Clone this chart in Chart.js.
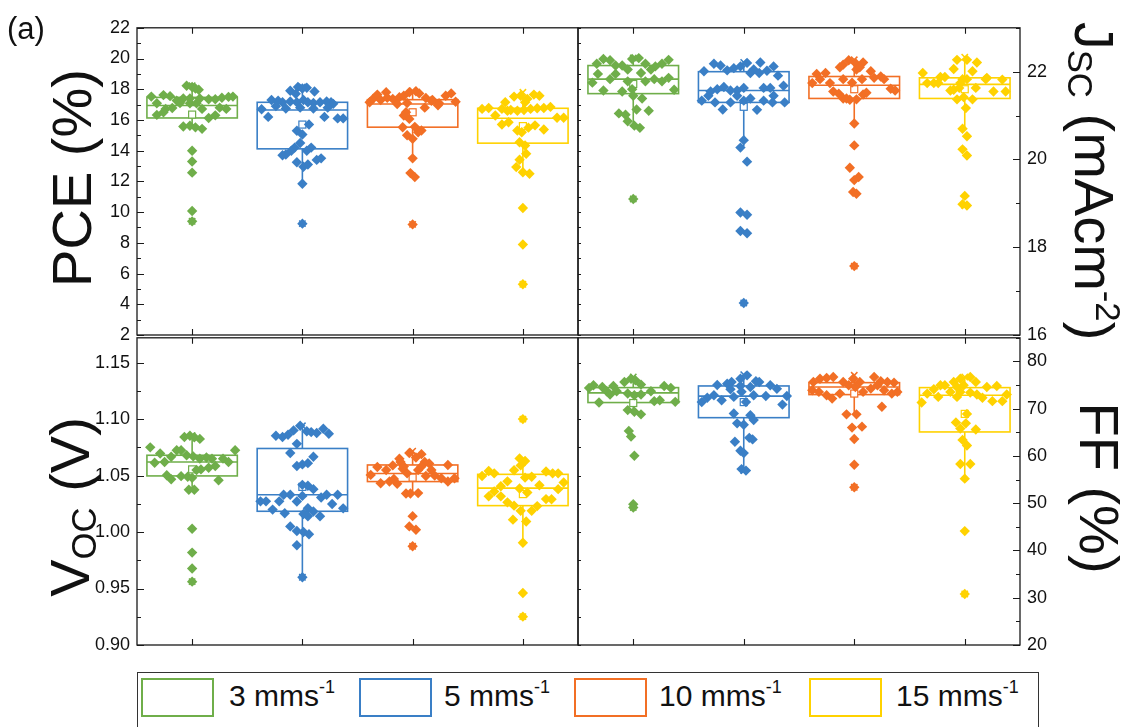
<!DOCTYPE html>
<html>
<head>
<meta charset="utf-8">
<script src="https://cdn.jsdelivr.net/npm/chart.js@4.4.1/dist/chart.umd.min.js"></script>
<style>
  html,body{margin:0;padding:0;background:#fff;}
  #wrap{position:relative;width:1132px;height:727px;overflow:hidden;background:#fff;font-family:"Liberation Sans",Arial,sans-serif;color:#111;}
  canvas{position:absolute;}
  .ttl{position:absolute;white-space:nowrap;font-size:56px;line-height:1;transform-origin:center center;}
  .ttl sub,.ttl sup{font-size:0.62em;line-height:0;}
  .ttl sub{vertical-align:-0.22em;}
  .ttl sup{vertical-align:0.6em;}
  #tag{position:absolute;left:7px;top:13px;font-size:31px;line-height:1;}
  #legend{position:absolute;left:137px;top:672px;width:902px;height:70px;border:1px solid #333;box-sizing:border-box;}
  .sw{position:absolute;top:5px;width:73px;height:39px;border:2px solid;box-sizing:border-box;}
  .lt{position:absolute;top:8px;font-size:30px;line-height:1;white-space:nowrap;}
  .lt sup{font-size:0.6em;vertical-align:0.7em;line-height:0;}
</style>
</head>
<body>
<div id="wrap">
  <canvas id="cPCE" width="560" height="345" style="left:40px;top:10px"></canvas>
  <canvas id="cJSC" width="560" height="345" style="left:560px;top:10px"></canvas>
  <canvas id="cVOC" width="560" height="345" style="left:40px;top:320px"></canvas>
  <canvas id="cFF"  width="560" height="345" style="left:560px;top:320px"></canvas>

  <div id="tag">(a)</div>
  <div class="ttl" id="tPCE">PCE (%)</div>
  <div class="ttl" id="tVOC">V<sub>OC</sub> (V)</div>
  <div class="ttl" id="tJSC">J<sub>SC</sub> (mAcm<sup>-2</sup>)</div>
  <div class="ttl" id="tFF">FF (%)</div>

  <div id="legend"></div>
</div>
<script>
// ---------------- data ----------------
const CATEGORIES = ['3', '5', '10', '15'];           // coating speed, mm s^-1
const COLORS = ['#6FAE4A', '#3A7FC6', '#F26F25', '#FFD200'];

const PCE_TICKS = [2, 4, 6, 8, 10, 12, 14, 16, 18, 20, 22];
const JSC_TICKS = [16, 18, 20, 22];
const VOC_TICKS = [0.90, 0.95, 1.00, 1.05, 1.10, 1.15];
const FF_TICKS  = [20, 30, 40, 50, 60, 70, 80];

// PCE (%) values and their horizontal jitter (category units)
const PCE_3 = [18.23,18.15,17.97,18.05, 17.52,17.62,17.55,17.26,17.4,17.4,17.4,17.35,17.35,17.45,17.5,17.52,
  17.09,17.1,17.09,17.09,16.8,16.72,16.72,16.78,16.72, 16.33,16.5,16.13,16.3, 15.57,15.62,15.52,15.42,
  14.0,13.3,12.57,10.07,9.4];
const PCE_3_X = [-0.05,0,0.06,0.03, -0.37,-0.26,-0.2,-0.14,-0.08,-0.02,0.07,0.15,0.21,0.27,0.33,0.37,
  -0.32,-0.11,-0.02,0.04,0.25,0.31,-0.24,-0.18,0.09, -0.32,-0.26,0.15,0.21, -0.08,-0.02,0.03,0.09,
  0,0,0,0,0];
const PCE_5 = [18.15,18.05,18.1,17.85,17.9,17.7, 17.3,17.25,17.15,17.2,17.15,17.3,17.15,17.1,17.15,17.2,17.15,17.05,
  16.7,16.9,16.75,16.8,16.75,16.8, 16.2,16.2,16.1,16.1,15.7,
  15.3,15.05,14.5,14.2,14.0,13.75,13.7,14.2,14.0,13.25,12.95,13.1,13.4,13.5,11.85, 9.25];
const PCE_5_X = [-0.04,0,0.04,0.11,-0.11,-0.06, -0.28,-0.22,-0.18,-0.11,-0.05,0.01,0.05,0.1,0.16,0.22,0.26,0.28,
  -0.37,-0.24,-0.15,-0.02,0.1,0.23, -0.31,0.2,0.32,0.37,0.06,
  -0.05,0,-0.02,-0.07,-0.1,-0.15,-0.18,0.08,0.04,-0.05,0.01,0.05,0.13,0.17,0, 0];
const PCE_10 = [17.15,17.37,17.65,17.8,17.37,17.48,17.58,17.8,17.87,17.73,17.43,17.3,17.09,17.58,17.73,17.19,
  17.3,17.04,16.8,16.95,17.45,17.25,17.1,
  16.29,16.07,15.53,15.55,15.0,14.77,15.31,15.2,16.5, 13.5,12.54,12.28, 9.2];
const PCE_10_X = [-0.39,-0.36,-0.32,-0.24,-0.18,-0.12,-0.08,-0.03,0.03,0.06,0.12,0.18,0.24,0.3,0.35,0.39,
  -0.29,-0.14,0.11,0.23,-0.23,0.17,-0.05,
  -0.08,-0.03,-0.09,0.02,-0.05,0,0.08,0.05,-0.06, 0,-0.02,0.02, 0];
const PCE_15 = [17.52,17.58,17.37,17.65,17.58,17.15,17.15,
  16.72,16.78,16.72,16.65,16.6,16.65,16.72,16.76,16.78,16.85,
  16.29,16.6,16.14,16.14, 15.7,15.85,15.31,15.2,15.5,15.65,15.38,
  14.55,14.34,13.8,13.41,12.93,12.6,12.5, 10.27,7.89,5.3];
const PCE_15_X = [-0.08,-0.02,0.04,0.1,0.15,-0.16,0.02,
  -0.37,-0.31,-0.19,-0.11,-0.05,0.01,0.07,0.13,0.19,0.25,
  -0.25,-0.14,0.31,0.37, -0.19,-0.13,-0.05,-0.01,0.05,0.11,0.19,
  -0.03,0.02,0.03,-0.03,-0.06,0,0.06, 0,0,0];

// Jsc (mA cm^-2)
const JSC_3 = [22.29,22.26,22.29,22.31,22.27,22.18,22.14,22.14,22.18,22.18,22.12,
  21.95,21.95,22.05,21.97,22.05,
  21.75,21.83,21.78,21.78,21.83,21.78,21.86,21.59,21.57,21.55,21.6,
  21.45,21.39,21.14,21.11,21.05,21.02,20.87,20.77,20.72, 19.1];
const JSC_3_X = [-0.27,-0.21,-0.01,0.05,0.32,-0.33,-0.16,-0.1,0.11,0.26,0.2,
  -0.32,-0.16,-0.05,0.07,0.16,
  -0.37,-0.21,-0.05,0.11,0.19,0.26,0.32,0.37,-0.27,-0.1,-0.01,
  0,0.08,0.03,0.14,-0.13,-0.07,-0.05,0.01,0.06, 0];
const JSC_5 = [22.18,22.14,22.08,22.12,22.2,22.05,22.21,22.12,22.01,22.03,22.02,21.97,21.97,21.91,
  21.68,21.63,21.63,21.57,21.63,21.57,21.65,21.55,21.6,21.45,21.45,21.45,
  21.34,21.3,21.3,21.34,21.39,21.34,21.3,21.3,21.14,21.13,
  20.44,20.27,19.95,18.79,18.74,18.37,18.32,16.73];
const JSC_5_X = [-0.27,-0.21,-0.09,-0.03,0.03,0.09,0.15,0.27,-0.36,-0.15,0.21,0.06,0.14,0.31,
  0.36,0.18,0.24,-0.06,0,-0.12,-0.18,-0.3,-0.24,-0.32,-0.06,0.27,
  -0.38,-0.26,-0.12,0,0.06,0.18,0.26,0.37,-0.19,0.12,
  0,-0.03,0.03,-0.03,0.03,-0.03,0.03,0];
const JSC_10 = [22.16,22.26,22.2,22.21,22.05,21.95,21.97,22.01,21.89,21.74,21.83,21.74,21.83,21.75,21.83,21.86,21.83,21.61,21.57,22.1,22.1,
  21.55,21.5,21.39,21.36,21.37,21.48,21.52,21.39,
  20.82,20.32,19.81,19.6,19.53,19.26,19.22, 17.57];
const JSC_10_X = [-0.1,-0.05,0.01,0.08,0.02,-0.34,-0.26,0.15,0.24,-0.38,-0.31,-0.22,-0.1,-0.02,0.07,0.18,0.27,0.33,0.37,-0.13,0.05,
  -0.19,-0.14,-0.1,-0.04,0.02,0.08,0.11,-0.07,
  0,0,-0.04,0.04,0,-0.01,0.02, 0];
const JSC_15 = [22.27,22.27,22.21,22.06,22.01,21.97,21.88,21.88,21.83,21.83,21.83,21.82,21.74,21.74,21.74,21.59,21.63,21.63,21.86,21.55,21.55,21.74,21.57,
  21.37,21.37,21.42,21.17,
  20.7,20.53,20.23,20.09,19.17,18.98,18.95];
const JSC_15_X = [-0.07,0.02,0.11,-0.1,0.07,-0.38,-0.22,-0.18,-0.02,0.02,0.19,0.34,-0.34,-0.28,-0.24,-0.1,-0.05,0.1,0.2,0.26,0.37,-0.04,-0.13,
  -0.07,0.07,-0.01,0.01,
  -0.02,0.02,-0.02,0.02,0,-0.02,0.02];

// Voc (V)
const VOC_3 = [1.075,1.0696,1.0667,1.0725,1.0725,1.0842,1.0853,1.0825,1.084,1.068,1.067,1.065,1.066,1.065,1.065,1.0725,1.062,
  1.0614,1.062,1.0585,1.057,1.0555,1.055,1.0503,1.0468,1.0495,1.049,1.048,1.0459,1.0375,1.0375,
  1.0029,0.9818,0.9678,0.9561];
const VOC_3_X = [-0.38,-0.29,-0.19,-0.14,-0.1,-0.07,-0.02,0.07,0.02,-0.05,0.01,0.07,0.13,0.18,0.28,0.39,0.33,
  -0.34,-0.25,0.21,0.15,0.08,0.04,-0.23,-0.19,-0.1,-0.04,0,0.24,-0.03,0.02,
  0,0,0,0];
const VOC_5 = [1.0853,1.0842,1.0862,1.09,1.0941,1.0892,1.0885,1.0877,1.0915,1.087,1.0781,1.07,1.0667,1.0585,1.0599,1.061,
  1.0418,1.041,1.038,1.0331,1.0331,1.032,1.0306,1.0331,1.0331,1.0272,1.0272,1.0272,1.027,
  1.0199,1.0167,1.0211,1.0182,1.0249,1.021,1.016,1.014,1.014,1.005,1.0009,1.0,0.998,0.9883,0.96];
const VOC_5_X = [-0.24,-0.18,-0.13,-0.08,-0.02,0.04,0.08,0.13,0.19,0.24,-0.05,-0.11,0.1,-0.05,0,0.05,
  0,0.05,0.1,-0.17,-0.11,0,0.17,0.22,0.32,-0.38,-0.33,-0.21,-0.05,
  -0.27,-0.16,0.05,0.1,0.27,0.37,0.01,0.05,0.16,-0.11,-0.05,0.01,0.06,-0.05,0];
const VOC_10 = [1.07,1.069,1.0649,1.066,1.059,1.0608,1.0594,1.0576,1.055,1.0506,1.056,1.0496,1.05,1.0476,1.0476,1.0447,
  1.0432,1.0447,1.0427,1.052,1.055,1.062,1.062,1.058,1.058,1.047,1.055,
  1.0342,1.0342,1.0345,1.0141,1.005,1.0021,0.9874];
const VOC_10_X = [-0.03,0.08,-0.12,0.03,-0.18,0.15,0.32,-0.32,-0.24,-0.38,-0.09,0.12,0.2,0.26,0.38,0.32,
  -0.29,-0.21,-0.14,-0.05,0.05,-0.11,0.11,-0.08,0.08,-0.17,0.17,
  -0.06,-0.02,0.05,0,-0.03,0.03,0];
const VOC_15 = [1.1,1.0652,1.0629,1.0547,1.059,1.0497,1.054,1.052,1.0405,1.0449,1.0482,1.049,1.0536,1.052,1.052,1.0439,
  1.0415,1.038,1.0386,1.035,1.0316,1.036,1.0316,1.0292,1.029,1.0263,1.0234,1.0188,1.0188,1.023,1.011,1.0093,
  0.9906,0.9461,0.9251];
const VOC_15_X = [0,-0.03,0.02,-0.08,-0.02,-0.37,-0.31,-0.26,-0.2,-0.14,0.02,0.08,0.21,0.27,0.32,0.37,
  0.15,0.32,-0.03,0.04,-0.31,-0.26,-0.2,0.21,0.26,-0.14,-0.08,-0.02,0.08,0.13,-0.09,0.03,
  0,0,0];

// FF (%)
const FF_3 = [74.96,74.6,74.8,75.65,76.35,76.0,75.1,73.7,74.8,74.4,74.4,73.7,73.7,73.2,72.86,73.0,73.0,
  71.3,71.6,71.8,71.45,69.7,69.35,68.8,65.3,64.1,60.04,49.8,49.1];
const FF_3_X = [-0.36,-0.28,-0.18,-0.08,-0.02,0.02,0.07,0.16,0.28,0.34,-0.4,-0.24,-0.15,-0.05,0.01,0.07,-0.21,
  -0.31,0.19,0.24,0.38,-0.05,0.01,0.07,-0.04,-0.02,0.01,0,0];
const FF_5 = [77.06,76.35,75.8,75.65,75.65,75.3,75.0,74.96,74.2,74.8,74.6,74.12,73.6,72.86,72.7,72.7,72.86,72.3,71.4,71.8,72.5,71.4,70.87,
  68.99,68.6,67.6,66.9,66.6,63.83,63.5,63.0,61.1,60.6,57.22,56.9];
const FF_5_X = [0.03,-0.03,0.11,0.14,-0.11,-0.15,-0.24,0.24,0.3,-0.03,0.06,-0.12,-0.02,0.09,0.2,0.39,-0.27,-0.33,-0.38,-0.2,-0.09,0.02,0.35,
  -0.09,0.06,0.09,-0.06,0,0.05,0.08,-0.08,-0.03,0,-0.02,0.02];
const FF_10 = [75.65,76.35,76.5,76.7,75.65,76.35,75.65,76.7,75.8,75.65,75.51,
  73.9,73.55,72.86,72.14,73.19,74.96,74.6,73.55,74.25,74.96,73.9,73.19,73.55,
  70.4,68.8,68.8,66.0,66.2,63.6,58.14,53.37];
const FF_10_X = [-0.37,-0.31,-0.25,-0.19,-0.1,-0.01,0.05,0.18,0.24,0.3,0.36,
  -0.38,-0.32,-0.25,-0.2,-0.13,-0.05,0.01,0.08,0.15,0.21,0.27,0.34,0.39,
  0.25,-0.07,0.02,-0.02,0.07,0,0,0];
const FF_15 = [76.35,76.7,75.65,75.65,74.96,74.12,74.96,74.6,74.96,74.6,74.8,73.19,72.5,73.55,73.55,73.4,73.0,72.3,71.6,71.6,71.3,73.0,72.5,
  68.9,67.1,66.9,65.6,65.8,63.4,62.2,58.3,58.3,55.2,44.1,30.8];
const FF_15_X = [-0.04,0.05,-0.1,0.1,-0.18,-0.28,-0.22,-0.07,-0.01,0.2,0.29,-0.34,-0.24,-0.13,-0.04,0.05,0.11,0.16,0.25,0.34,-0.39,0.38,-0.07,
  0.02,-0.08,0.01,0.1,-0.04,-0.02,0.02,-0.04,0.05,0,0,0];

// Box statistics per category: [Q1, median, Q3, mean, lower whisker, upper whisker, min, max]
const PCE_BOX = [[16.13,16.94,17.47,16.35,15.42,18.23,9.4,18.23],
                 [14.12,16.65,17.15,15.7,11.85,18.15,9.25,18.15],
                 [15.53,17.04,17.32,16.5,13.5,17.9,9.2,17.9],
                 [14.49,16.11,16.76,15.6,12.5,17.8,5.3,17.8]];
const JSC_BOX = [[21.5,21.83,22.14,21.72,20.72,22.31,19.1,22.31],
                 [21.3,21.57,22.0,21.2,20.3,22.21,16.73,22.21],
                 [21.39,21.69,21.89,21.6,20.82,22.27,17.57,22.27],
                 [21.39,21.71,21.86,21.6,20.7,22.33,18.95,22.33]];
const VOC_BOX = [[1.0497,1.062,1.068,1.0555,1.0375,1.0853,0.9561,1.0853],
                 [1.0184,1.0331,1.074,1.04,0.96,1.0941,0.96,1.0941],
                 [1.0447,1.0518,1.0594,1.0482,1.0342,1.0716,0.9874,1.0716],
                 [1.0234,1.0389,1.0511,1.0336,0.9906,1.0652,0.9251,1.1]];
const FF_BOX  = [[71.3,73.34,74.46,71.2,69.35,76.7,49.1,76.7],
                 [68.1,72.65,74.81,71.4,56.9,77.2,56.9,77.2],
                 [72.98,74.6,75.51,73.2,68.8,77.06,53.37,77.06],
                 [65.08,72.86,74.46,68.9,55.2,76.7,30.8,76.7]];

// ---------------- drawing ----------------
const FONT = '"Liberation Sans", Arial, sans-serif';
const INK = '#1a1a1a';

const boxPlugin = {
  id: 'boxes',
  beforeDatasetsDraw(chart) {
    const cfg = chart.options.plugins.boxes;
    const xs = chart.scales.x, ys = chart.scales.y, ctx = chart.ctx;
    ctx.save();
    cfg.box.forEach((b, g) => {
      const [q1, med, q3, mean, wlo, whi] = b;
      const cx = xs.getPixelForValue(g);
      const hw = xs.getPixelForValue(g + 0.41) - cx;
      const y1 = ys.getPixelForValue(q1), y3 = ys.getPixelForValue(q3);
      ctx.strokeStyle = COLORS[g];
      ctx.lineWidth = 1.6;
      ctx.strokeRect(cx - hw, y3, 2 * hw, y1 - y3);
      ctx.beginPath();
      ctx.moveTo(cx - hw, ys.getPixelForValue(med)); ctx.lineTo(cx + hw, ys.getPixelForValue(med));
      ctx.moveTo(cx, y3); ctx.lineTo(cx, ys.getPixelForValue(whi));
      ctx.moveTo(cx, y1); ctx.lineTo(cx, ys.getPixelForValue(wlo));
      ctx.stroke();
      const my = ys.getPixelForValue(mean);
      ctx.lineWidth = 1.2;
      ctx.fillStyle = '#fff';
      ctx.fillRect(cx - 3.5, my - 3.5, 7, 7);
      ctx.strokeRect(cx - 3.5, my - 3.5, 7, 7);
    });
    ctx.restore();
  }
};

const framePlugin = {
  id: 'frame',
  afterDraw(chart) {
    const cfg = chart.options.plugins.frame;
    const a = chart.chartArea, xs = chart.scales.x, ys = chart.scales.y, ctx = chart.ctx;
    ctx.save();
    ctx.strokeStyle = INK;
    ctx.lineWidth = 1.3;
    ctx.strokeRect(a.left, a.top, a.right - a.left, a.bottom - a.top);
    ctx.lineWidth = 1.1;
    ctx.beginPath();
    CATEGORIES.forEach((c, i) => {
      const px = Math.round(xs.getPixelForValue(i)) + 0.5;
      ctx.moveTo(px, a.top); ctx.lineTo(px, a.top + 6);
      ctx.moveTo(px, a.bottom); ctx.lineTo(px, a.bottom - 6);
    });
    const t0 = cfg.ticks[0], step = cfg.minor;
    const n = Math.round((ys.max - t0) / step);
    for (let k = 0; k <= n; k++) {
      const v = t0 + k * step;
      if (v > ys.max + 1e-9) break;
      const major = cfg.ticks.some(t => Math.abs(t - v) < step / 10);
      const py = Math.round(ys.getPixelForValue(v)) + 0.5;
      if (cfg.side === 'left') {
        ctx.moveTo(a.left, py); ctx.lineTo(a.left + (major ? 7 : 4), py);
        ctx.moveTo(a.right, py); ctx.lineTo(a.right + 3, py);
      } else {
        ctx.moveTo(a.right, py); ctx.lineTo(a.right - (major ? 7 : 4), py);
      }
    }
    ctx.stroke();
    ctx.restore();
  }
};

function makePanel(id, canvasBox, plot, side, groups, jitters, box, ticks, minor, ymin, ymax, fmt) {
  const W = side === 'left' ? plot.l - canvasBox.x : canvasBox.x + canvasBox.w - plot.r;
  const padding = {
    top: plot.t - canvasBox.y,
    bottom: canvasBox.y + canvasBox.h - plot.b,
    left: side === 'left' ? 0 : plot.l - canvasBox.x,
    right: side === 'left' ? canvasBox.x + canvasBox.w - plot.r : 0
  };
  const datasets = groups.map((vals, g) => ({
    type: 'scatter',
    data: vals.map((v, i) => ({ x: g + jitters[g][i], y: v })),
    pointStyle: 'rectRot',
    pointRadius: 5.2,
    pointBorderWidth: 0,
    backgroundColor: COLORS[g],
    borderColor: COLORS[g]
  }));
  box.forEach((b, g) => {
    datasets.push({
      type: 'scatter',
      data: [{ x: g, y: b[6] }, { x: g, y: b[7] }],
      pointStyle: 'crossRot',
      pointRadius: 4.5,
      pointBorderWidth: 1.5,
      borderColor: COLORS[g],
      backgroundColor: COLORS[g]
    });
  });
  return new Chart(document.getElementById(id), {
    type: 'scatter',
    data: { datasets },
    options: {
      responsive: false,
      animation: false,
      events: [],
      layout: { padding },
      plugins: {
        legend: { display: false },
        tooltip: { enabled: false },
        boxes: { box },
        frame: { side, ticks, minor }
      },
      scales: {
        x: { type: 'linear', min: -0.5, max: 3.5, display: false },
        y: {
          type: 'linear', position: side, min: ymin, max: ymax,
          afterFit: s => { s.width = W; },
          afterBuildTicks: s => { s.ticks = ticks.map(v => ({ value: v })); },
          grid: { display: false, drawTicks: false },
          border: { display: false },
          ticks: {
            autoSkip: false, padding: 7, color: '#111',
            font: { family: FONT, size: 18 },
            callback: v => fmt(v)
          }
        }
      }
    },
    plugins: [boxPlugin, framePlugin]
  });
}

const intFmt = v => String(Math.round(v));
makePanel('cPCE', { x: 40, y: 10, w: 560, h: 345 }, { l: 137, t: 27, r: 578, b: 335 }, 'left',
  [PCE_3, PCE_5, PCE_10, PCE_15], [PCE_3_X, PCE_5_X, PCE_10_X, PCE_15_X], PCE_BOX, PCE_TICKS, 1, 2, 22, intFmt);
makePanel('cJSC', { x: 560, y: 10, w: 560, h: 345 }, { l: 578, t: 27, r: 1020, b: 335 }, 'right',
  [JSC_3, JSC_5, JSC_10, JSC_15], [JSC_3_X, JSC_5_X, JSC_10_X, JSC_15_X], JSC_BOX, JSC_TICKS, 1, 16, 23, intFmt);
makePanel('cVOC', { x: 40, y: 320, w: 560, h: 345 }, { l: 137, t: 335, r: 578, b: 645 }, 'left',
  [VOC_3, VOC_5, VOC_10, VOC_15], [VOC_3_X, VOC_5_X, VOC_10_X, VOC_15_X], VOC_BOX, VOC_TICKS, 0.025, 0.9, 1.172, v => v.toFixed(2));
makePanel('cFF', { x: 560, y: 320, w: 560, h: 345 }, { l: 578, t: 335, r: 1020, b: 645 }, 'right',
  [FF_3, FF_5, FF_10, FF_15], [FF_3_X, FF_5_X, FF_10_X, FF_15_X], FF_BOX, FF_TICKS, 5, 20, 85, intFmt);

// axis titles: centre each rotated label on its position
function placeTitle(id, cx, cy, deg) {
  const el = document.getElementById(id);
  const w = el.offsetWidth, h = el.offsetHeight;
  el.style.left = (cx - w / 2) + 'px';
  el.style.top = (cy - h / 2) + 'px';
  el.style.transform = 'rotate(' + deg + 'deg)';
}
placeTitle('tPCE', 72, 178, -90);
placeTitle('tVOC', 70, 507, -90);
placeTitle('tJSC', 1094, 181, 90);
placeTitle('tFF', 1098, 488, 90);

// legend
const LEG_SW = [3, 221, 436, 671];
const LEG_TX = [91, 306, 521, 758];
const legend = document.getElementById('legend');
CATEGORIES.forEach((c, i) => {
  const sw = document.createElement('div');
  sw.className = 'sw';
  sw.style.left = LEG_SW[i] + 'px';
  sw.style.borderColor = COLORS[i];
  legend.appendChild(sw);
  const tx = document.createElement('div');
  tx.className = 'lt';
  tx.style.left = LEG_TX[i] + 'px';
  tx.innerHTML = c + ' mms<sup>-1</sup>';
  legend.appendChild(tx);
});
</script>
</body>
</html>
